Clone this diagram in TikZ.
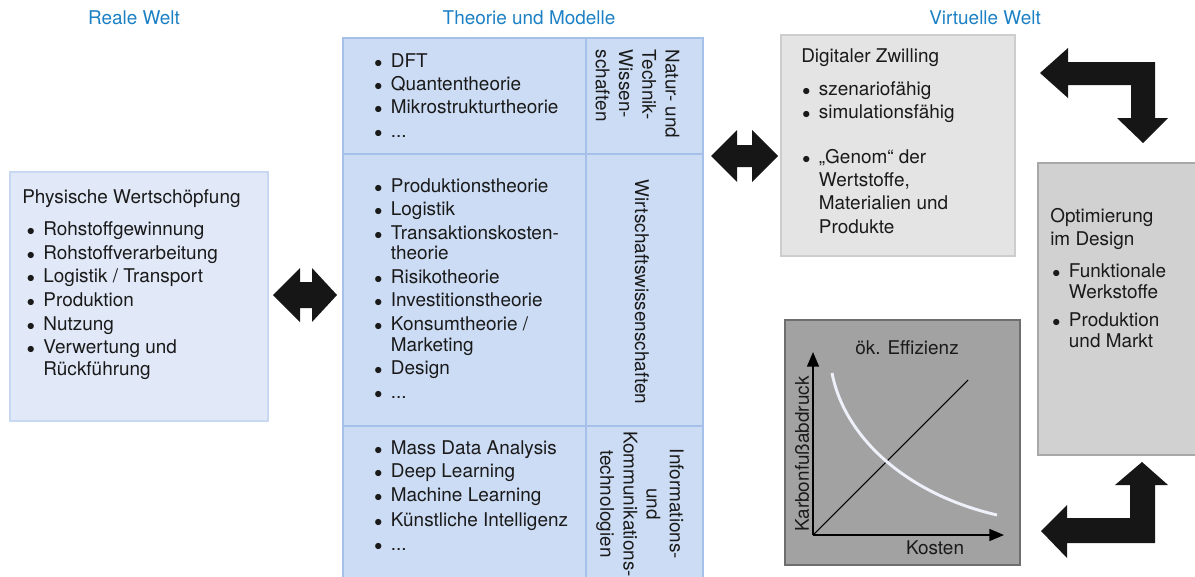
\documentclass[tikz,border=0pt]{standalone}
\usepackage{fontspec}
\setmainfont{TeX Gyre Heros}
\usetikzlibrary{arrows.meta}
\definecolor{weltblau}{RGB}{28,128,196}
\definecolor{realfill}{RGB}{225,233,248}
\definecolor{realrand}{RGB}{200,216,242}
\definecolor{theofill}{RGB}{204,220,244}
\definecolor{theorand}{RGB}{165,193,233}
\definecolor{zwillfill}{RGB}{228,228,228}
\definecolor{zwillrand}{RGB}{205,205,205}
\definecolor{optfill}{RGB}{209,209,209}
\definecolor{optrand}{RGB}{168,168,168}
\definecolor{diagfill}{RGB}{162,162,162}
\definecolor{diagrand}{RGB}{110,110,110}
\definecolor{pfeil}{RGB}{22,22,22}
\definecolor{schrift}{RGB}{26,26,26}
\definecolor{kurve}{RGB}{238,240,250}
\newcommand{\bul}{\makebox[12.5pt][l]{\fontsize{12}{12}\selectfont$\bullet$}}
\newcommand{\ind}{\hspace*{12.5pt}}
\newcommand{\wrap}{\\[-2pt]}
\tikzset{
  txt/.style={anchor=base west,align=left,inner sep=0pt,text=schrift,font=\fontsize{14.2}{17.6}\selectfont},
  titel/.style={inner sep=0pt,text=weltblau,font=\fontsize{14.2}{17}\selectfont},
  dreh/.style={rotate=-90,inner sep=0pt,text=schrift,font=\fontsize{14.2}{17.4}\selectfont},
  beschr/.style={inner sep=0pt,text=schrift,font=\fontsize{14.2}{17}\selectfont},
  blockpfeil/.style={fill=pfeil},
  achse/.style={line width=1.1pt,-{Triangle[length=11pt,width=9pt]}},
}
\begin{document}
\begin{tikzpicture}[x=0.75pt,y=-0.75pt]
	\useasboundingbox (0,0) rectangle (1195,576);
	% Ueberschriften
	\node[titel] (reale) at (134,18) {Reale Welt};
	\node[titel] (theorie) at (529,18) {Theorie und Modelle};
	\node[titel] (virtuell) at (985,18) {Virtuelle Welt};
	% Reale Welt (Anker: Grundlinie der letzten Zeile)
	\draw[fill=realfill,draw=realrand,line width=2pt] (10,172) rectangle (268,421);
	\node[txt] (physkopf) at (22,203) {Physische Wertschöpfung};
	\node[txt,font=\fontsize{14.2}{17.8}\selectfont] (physliste) at (26.5,375) {\bul Rohstoffgewinnung\\\bul Rohstoffverarbeitung\\\bul Logistik / Transport\\\bul Produktion\\\bul Nutzung\\\bul Verwertung und\wrap\ind Rückführung};
	% Theorie und Modelle
	\draw[fill=theofill,draw=theorand,line width=2.2pt] (343,38) rectangle (703,592);
	\draw[theorand,line width=2pt] (343,154) -- (703,154);
	\draw[theorand,line width=2pt] (343,426) -- (703,426);
	\draw[theorand,line width=2pt] (586,38) -- (586,592);
	\node[txt,font=\fontsize{14.2}{17.3}\selectfont] (natliste) at (374,137) {\bul DFT\\\bul Quantentheorie\\\bul Mikrostrukturtheorie\\\bul ...};
	\node[txt] (wiliste) at (374,398) {\bul Produktionstheorie\\\bul Logistik\\\bul Transaktionskosten-\wrap\ind theorie\\\bul Risikotheorie\\\bul Investitionstheorie\\\bul Konsumtheorie /\wrap\ind Marketing\\\bul Design\\\bul ...};
	\node[txt] (iktliste) at (374,550) {\bul Mass Data Analysis\\\bul Deep Learning\\\bul Machine Learning\\[1.5pt]\bul Künstliche Intelligenz\\\bul ...};
	\node[dreh,align=left] (natur) at (637.5,94) {Natur- und\\Technik-\\Wissen-\\schaften};
	\node[dreh] (wiwi) at (642,292) {Wirtschaftswissenschaften};
	\node[dreh,align=center] (ikt) at (640,504) {Informations-\\und\\Kommunikations-\\technologien};
	% Virtuelle Welt
	\draw[fill=zwillfill,draw=zwillrand,line width=2pt] (781,35) rectangle (1015,256);
	\node[txt] (zwillkopf) at (801,62) {Digitaler Zwilling};
	\node[txt,font=\fontsize{14.2}{17.4}\selectfont] (zwillliste) at (802,233) {\bul szenariofähig\\\bul simulationsfähig\\[16pt]\bul „Genom“ der\\\ind Wertstoffe,\\\ind Materialien und\\\ind Produkte};
	\draw[fill=optfill,draw=optrand,line width=2pt] (1038,163) rectangle (1205,455);
	\node[txt,font=\fontsize{14.2}{17.2}\selectfont] (optkopf) at (1050,245) {Optimierung\\im Design};
	\node[txt] (optliste) at (1052,347) {\bul Funktionale\wrap\ind Werkstoffe\\[3pt]\bul Produktion\wrap\ind und Markt};
	% Diagramm
	\draw[fill=diagfill,draw=diagrand,line width=2pt] (785,320) rectangle (1020,565);
	\coordinate (O) at (813,535);
	\coordinate (ytip) at (813,352);
	\coordinate (xtip) at (1004,535);
	\coordinate (diagende) at (968,380);
	\draw[achse] (O) -- (ytip);
	\draw[achse] (O) -- (xtip);
	\draw[line width=0.8pt] (O) -- (diagende);
	\draw[kurve,line width=2.2pt] (832,373) .. controls (845,440) and (910,495) .. (997,515);
	\node[beschr] (effizienz) at (907,348) {ök. Effizienz};
	\node[beschr] (kosten) at (935,548) {Kosten};
	\node[beschr,rotate=90] (karbon) at (802,454) {Karbonfußabdruck};
	% Blockpfeile
	\fill[blockpfeil] (273,295) -- (300,268) -- (300,282) -- (312,282) -- (312,268) -- (337,295) -- (312,322) -- (312,308) -- (300,308) -- (300,322) -- cycle;
	\fill[blockpfeil] (711,156) -- (737,130) -- (737,145) -- (752,145) -- (752,130) -- (778,156) -- (752,182) -- (752,167) -- (737,167) -- (737,182) -- cycle;
	\fill[blockpfeil] (1040,73) -- (1068,48) -- (1068,62) -- (1155,62) -- (1155,118) -- (1168,118) -- (1143,143) -- (1117,118) -- (1131,118) -- (1131,85) -- (1068,85) -- (1068,98) -- cycle;
	\fill[blockpfeil] (1142,462) -- (1168,485) -- (1155,485) -- (1155,543) -- (1067,543) -- (1067,558) -- (1041,531) -- (1067,505) -- (1067,518) -- (1130,518) -- (1130,485) -- (1115,485) -- cycle;
\end{tikzpicture}
\end{document}
